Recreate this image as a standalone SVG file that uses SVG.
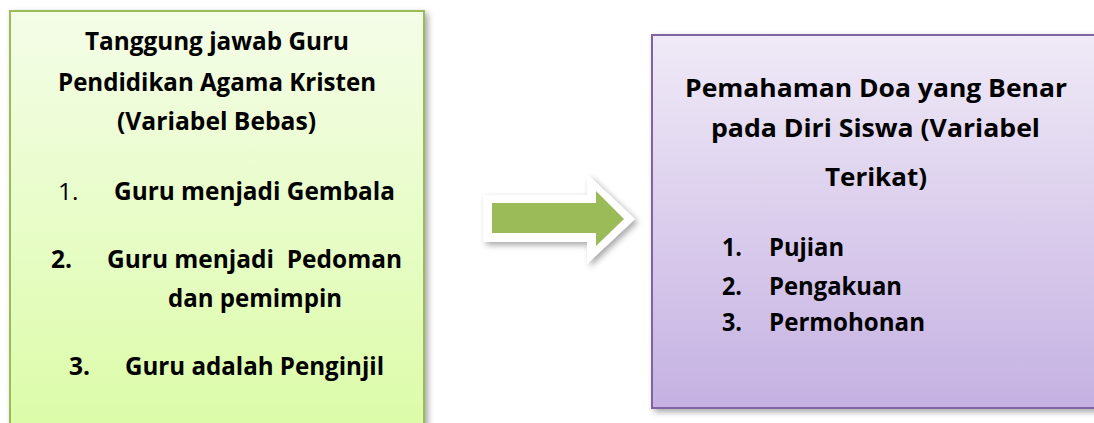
<svg xmlns="http://www.w3.org/2000/svg" width="1094" height="423" viewBox="0 0 1094 423">
<defs>
<linearGradient id="gGreen" x1="0" y1="0" x2="0" y2="1">
<stop offset="0" stop-color="#f4fde8"/>
<stop offset="1" stop-color="#dbfca6"/>
</linearGradient>
<linearGradient id="gPurple" x1="0" y1="0" x2="0" y2="1">
<stop offset="0" stop-color="#f0eaf7"/>
<stop offset="1" stop-color="#c5b1e2"/>
</linearGradient>
<filter id="shadow" x="-10%" y="-10%" width="130%" height="130%">
<feGaussianBlur in="SourceAlpha" stdDeviation="3"/>
<feOffset dx="3" dy="3" result="b"/>
<feComponentTransfer><feFuncA type="linear" slope="0.35"/></feComponentTransfer>
<feMerge><feMergeNode/><feMergeNode in="SourceGraphic"/></feMerge>
</filter>
</defs>
<style>
text{font-family:"Open Sans","Liberation Sans",sans-serif;font-size:24.5px;font-weight:bold;fill:#000;}
.reg{font-weight:normal;}
</style>
<rect width="1094" height="423" fill="#ffffff"/>
<g id="node-left">
<rect x="10" y="11" width="414" height="430" fill="url(#gGreen)" stroke="#9bbb59" stroke-width="2" filter="url(#shadow)"/>
<text x="85" y="50" textLength="264" lengthAdjust="spacingAndGlyphs">Tanggung jawab Guru</text>
<text x="58" y="91" textLength="318" lengthAdjust="spacingAndGlyphs">Pendidikan Agama Kristen</text>
<text x="117" y="130" textLength="199" lengthAdjust="spacingAndGlyphs">(Variabel Bebas)</text>
<text x="58" y="200" class="reg">1.</text>
<text x="114" y="200" textLength="281" lengthAdjust="spacingAndGlyphs">Guru menjadi Gembala</text>
<text x="51" y="268">2.</text>
<text x="107" y="268" textLength="295" lengthAdjust="spacingAndGlyphs" xml:space="preserve">Guru menjadi  Pedoman</text>
<text x="168" y="307" textLength="174" lengthAdjust="spacingAndGlyphs">dan pemimpin</text>
<text x="69" y="375">3.</text>
<text x="125" y="375" textLength="259" lengthAdjust="spacingAndGlyphs">Guru adalah Penginjil</text>
</g>
<g id="connectors">
<polygon points="483,195 587,195 587,174 635,219 587,264 587,242 483,242" fill="#ffffff" filter="url(#shadow)"/>
<polygon points="492,203 596,203 596,191 624,219 596,246 596,233 492,233" fill="#9bbb59"/>
</g>
<g id="node-right">
<rect x="652" y="35" width="460" height="373" fill="url(#gPurple)" stroke="#8064a2" stroke-width="2" filter="url(#shadow)"/>
<text x="685" y="97" textLength="382" lengthAdjust="spacingAndGlyphs">Pemahaman Doa yang Benar</text>
<text x="711" y="137" textLength="329" lengthAdjust="spacingAndGlyphs">pada Diri Siswa (Variabel</text>
<text x="825" y="186" textLength="102" lengthAdjust="spacingAndGlyphs">Terikat)</text>
<text x="722" y="256" textLength="20" lengthAdjust="spacingAndGlyphs">1.</text>
<text x="769" y="256" textLength="75" lengthAdjust="spacingAndGlyphs">Pujian</text>
<text x="722" y="295" textLength="20" lengthAdjust="spacingAndGlyphs">2.</text>
<text x="769" y="295" textLength="133" lengthAdjust="spacingAndGlyphs">Pengakuan</text>
<text x="722" y="331" textLength="20" lengthAdjust="spacingAndGlyphs">3.</text>
<text x="769" y="331" textLength="156" lengthAdjust="spacingAndGlyphs">Permohonan</text>
</g>
</svg>
